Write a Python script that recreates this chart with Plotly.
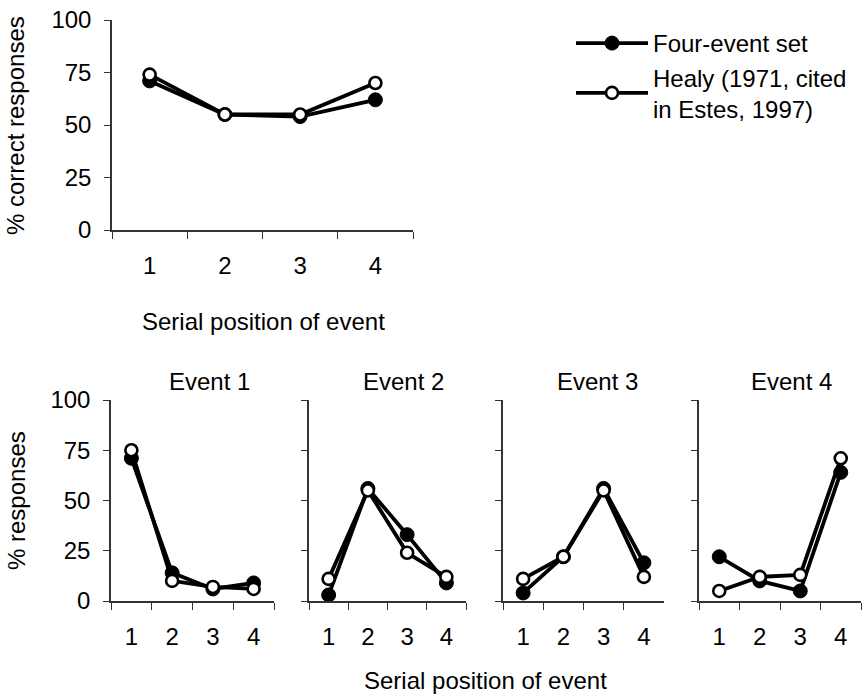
import plotly.graph_objects as go

# ---------------- data ----------------
positions = ["1", "2", "3", "4"]
ytick_vals = [0, 25, 50, 75, 100]

# top panel: % correct responses by serial position
top_four = [71, 55, 54, 62]
top_healy = [74, 55, 55, 70]

# bottom panels: % responses per event, by serial position
event_titles = ["Event 1", "Event 2", "Event 3", "Event 4"]
ev_four = [
    [71, 14, 6, 9],
    [3, 56, 33, 9],
    [4, 22, 56, 19],
    [22, 10, 5, 64],
]
ev_healy = [
    [75, 10, 7, 6],
    [11, 55, 24, 12],
    [11, 22, 55, 12],
    [5, 12, 13, 71],
]

label_four = "Four-event set"
label_healy = "Healy (1971, cited<br>in Estes, 1997)"

# ---------------- style ----------------
W, H = 862, 696
FONT = "Liberation Sans, Arial, Helvetica, sans-serif"
FS = 24
AX_COL = "#333333"

def px_x(p):
    return p / W

def px_y(p):
    return 1 - p / H

fig = go.Figure()

filled = dict(color="black", width=3.8)
mk_filled = dict(symbol="circle", size=14, color="black", line=dict(color="black", width=1))
mk_open = dict(symbol="circle", size=12, color="white", line=dict(color="black", width=2.6))

# top panel traces
fig.add_trace(go.Scatter(x=positions, y=top_four, mode="lines+markers", name=label_four,
                         line=filled, marker=mk_filled, xaxis="x", yaxis="y",
                         cliponaxis=False, showlegend=True))
fig.add_trace(go.Scatter(x=positions, y=top_healy, mode="lines+markers", name=label_healy,
                         line=filled, marker=mk_open, xaxis="x", yaxis="y",
                         cliponaxis=False, showlegend=True))

for i in range(4):
    ax = str(i + 2)
    fig.add_trace(go.Scatter(x=positions, y=ev_four[i], mode="lines+markers", name=label_four,
                             line=filled, marker=mk_filled, xaxis="x" + ax, yaxis="y" + ax,
                             cliponaxis=False, showlegend=False))
    fig.add_trace(go.Scatter(x=positions, y=ev_healy[i], mode="lines+markers", name=label_healy,
                             line=filled, marker=mk_open, xaxis="x" + ax, yaxis="y" + ax,
                             cliponaxis=False, showlegend=False))

def xax(domain, anchor):
    return dict(domain=domain, anchor=anchor, type="category", range=[-0.5, 3.5],
                tickson="boundaries", ticks="outside", ticklen=7, tickwidth=1.2,
                tickcolor=AX_COL, showline=True, linecolor=AX_COL, linewidth=1.5,
                showgrid=False, zeroline=False, ticklabelstandoff=13, automargin=False,
                tickfont=dict(family=FONT, size=FS, color="black"), fixedrange=True)

def yax(domain, anchor, labels=True):
    return dict(domain=domain, anchor=anchor, range=[0, 100], tickvals=ytick_vals,
                ticks="outside", ticklen=6, tickwidth=1.2, tickcolor=AX_COL,
                showline=True, linecolor=AX_COL, linewidth=1.5, showgrid=False,
                zeroline=False, showticklabels=labels, ticklabelstandoff=8, automargin=False,
                tickfont=dict(family=FONT, size=FS, color="black"), fixedrange=True)

layout = dict(
    width=W, height=H, margin=dict(l=0, r=0, t=0, b=0, autoexpand=False),
    paper_bgcolor="white", plot_bgcolor="white",
    font=dict(family=FONT, size=FS, color="black"),
    showlegend=True,
    legend=dict(x=px_x(571), y=px_y(21), xanchor="left", yanchor="top",
                font=dict(family=FONT, size=FS, color="black"),
                bgcolor="rgba(0,0,0,0)", tracegroupgap=4, itemwidth=72),
)

layout["xaxis"] = xax([px_x(112), px_x(413)], "y")
layout["yaxis"] = yax([px_y(230), px_y(20)], "x")

panel_px = [(111, 274), (309, 466), (503, 664), (699, 861)]
for i, (a, b) in enumerate(panel_px):
    ax = str(i + 2)
    layout["xaxis" + ax] = xax([px_x(a), px_x(b)], "y" + ax)
    layout["yaxis" + ax] = yax([px_y(601), px_y(400)], "x" + ax, labels=(i == 0))

def ann(text, cx, cy, angle=0):
    return dict(text=text, x=px_x(cx), y=px_y(cy), xref="paper", yref="paper",
                xanchor="center", yanchor="middle", showarrow=False, textangle=angle,
                font=dict(family=FONT, size=FS, color="black"))

annotations = [
    ann("Serial position of event", 263, 321),
    ann("% correct responses", 16, 126, -90),
    ann("% responses", 16, 501, -90),
    ann("Serial position of event", 485, 680),
]
title_cx = [209, 403, 597, 791]
for t, cx in zip(event_titles, title_cx):
    annotations.append(ann(t, cx, 381))
layout["annotations"] = annotations

fig.update_layout(**layout)
fig.write_html("out.html")
